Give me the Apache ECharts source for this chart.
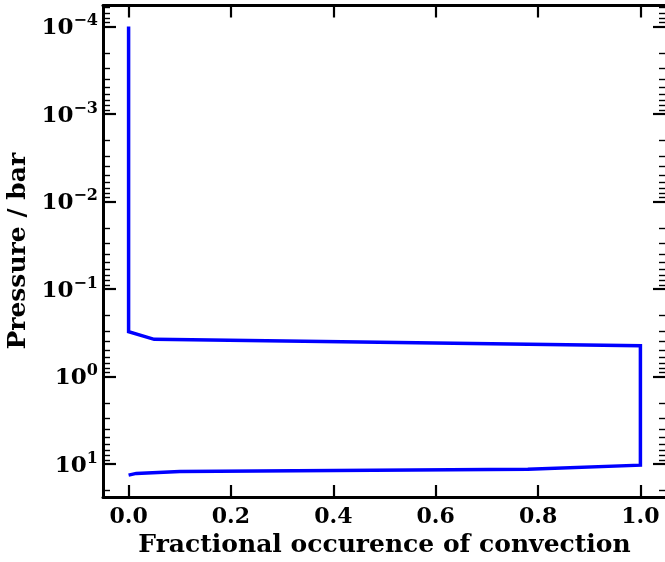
<!DOCTYPE html>
<html><head><meta charset="utf-8">
<script src="https://cdn.jsdelivr.net/npm/echarts@6/dist/echarts.min.js"></script>
<style>html,body{margin:0;padding:0;background:#fff}#c{width:665px;height:562px}</style>
</head><body><div id="c"></div>
<script>
// ---- data ----
const fraction = [0, 0, 0.05, 1.0, 1.0, 0.78, 0.1, 0.015, 0];
const pressure = [1e-4, 0.307, 0.376, 0.445, 10.3, 11.5, 12.2, 12.8, 13.4];
const xTicks = [0, 0.2, 0.4, 0.6, 0.8, 1.0];
const xTickLabels = ['0.0', '0.2', '0.4', '0.6', '0.8', '1.0'];
const yMajorTicks = [1e-4, 1e-3, 1e-2, 1e-1, 1, 10];
const yTickExponents = ['−4', '−3', '−2', '−1', '0', '1'];
const yMinorTicks = [6e-5, 7e-5, 8e-5, 9e-5,
  2e-4, 3e-4, 4e-4, 5e-4, 6e-4, 7e-4, 8e-4, 9e-4,
  2e-3, 3e-3, 4e-3, 5e-3, 6e-3, 7e-3, 8e-3, 9e-3,
  2e-2, 3e-2, 4e-2, 5e-2, 6e-2, 7e-2, 8e-2, 9e-2,
  0.2, 0.3, 0.4, 0.5, 0.6, 0.7, 0.8, 0.9,
  2, 3, 4, 5, 6, 7, 8, 9, 20];
const xRange = [-0.05, 1.05];
const yRange = [Math.pow(10, -4.24), Math.pow(10, 1.377)];
const xTitle = 'Fractional occurence of convection';
const yTitle = 'Pressure / bar';

const FONT = 'DejaVu Serif';
const chart = echarts.init(document.getElementById('c'), null, {renderer: 'canvas'});

function yLabel(v) {
  const i = yMajorTicks.findIndex(t => Math.abs(Math.log10(t) - Math.log10(v)) < 1e-6);
  if (i < 0) return '';
  return '{b|10}{s|' + yTickExponents[i] + '}';
}
function xLabel(v) {
  const i = xTicks.findIndex(t => Math.abs(t - v) < 1e-9);
  return i < 0 ? '' : xTickLabels[i];
}

const spine = {show: true, onZero: false, lineStyle: {color: '#000', width: 3}};
const noSpine = {show: false, onZero: false};

function yAxisDef(pos, major, withLabel) {
  return {
    type: 'log', logBase: 10, inverse: true, position: pos,
    min: yRange[0], max: yRange[1],
    axisLine: major ? spine : noSpine,
    splitLine: {show: false},
    minorTick: {show: false},
    axisTick: {show: true, inside: true, length: major ? 13 : 7,
      customValues: major ? yMajorTicks : yMinorTicks,
      lineStyle: {color: '#000', width: major ? 2.2 : 1.4}},
    axisLabel: withLabel ? {
      show: true, customValues: yMajorTicks, formatter: yLabel, margin: 5,
      rich: {
        b: {fontFamily: FONT, fontWeight: 'bold', fontSize: 23, color: '#000', padding: [4, 0, 0, 0]},
        s: {fontFamily: FONT, fontWeight: 'bold', fontSize: 16, color: '#000', verticalAlign: 'top'}
      }
    } : {show: false},
    name: withLabel ? yTitle : '',
    nameLocation: 'middle', nameGap: 72, nameRotate: 90, nameMoveOverlap: false,
    nameTextStyle: {fontFamily: FONT, fontWeight: 'bold', fontSize: 25, color: '#000'}
  };
}
function xAxisDef(pos, withLabel) {
  return {
    type: 'value', position: pos, min: xRange[0], max: xRange[1],
    axisLine: spine,
    splitLine: {show: false},
    axisTick: {show: true, inside: true, length: 12, customValues: xTicks,
      lineStyle: {color: '#000', width: 2.2}},
    axisLabel: withLabel ? {show: true, customValues: xTicks, formatter: xLabel, margin: 9,
      fontFamily: FONT, fontWeight: 'bold', fontSize: 22, color: '#000'} : {show: false},
    name: withLabel ? xTitle : '',
    nameLocation: 'middle', nameGap: 36, nameMoveOverlap: false,
    nameTextStyle: {fontFamily: FONT, fontWeight: 'bold', fontSize: 25, color: '#000'}
  };
}

chart.setOption({
  animation: false,
  backgroundColor: '#fff',
  grid: {left: 103, top: 5.5, width: 563, height: 491.5, containLabel: false, outerBoundsMode: 'none'},
  xAxis: [xAxisDef('bottom', true), xAxisDef('top', false)],
  yAxis: [yAxisDef('left', true, true), yAxisDef('left', false, false),
          yAxisDef('right', true, false), yAxisDef('right', false, false)],
  series: [{
    type: 'line', xAxisIndex: 0, yAxisIndex: 0,
    data: fraction.map((x, i) => [x, pressure[i]]),
    showSymbol: false, symbol: 'none',
    lineStyle: {color: '#0000ff', width: 3.5, join: 'miter'},
    itemStyle: {color: '#0000ff'}
  }]
});
</script></body></html>
